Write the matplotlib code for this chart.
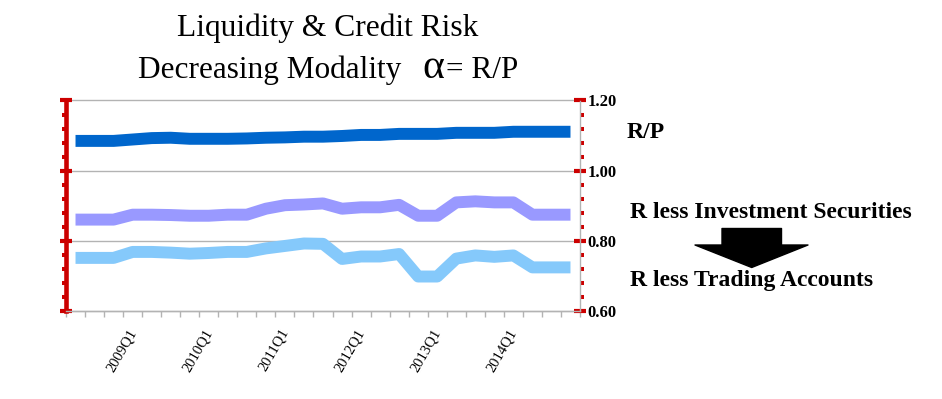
import matplotlib
matplotlib.use('Agg')
import matplotlib.pyplot as plt
import matplotlib.transforms as mtransforms
import numpy as np
from matplotlib.ticker import MultipleLocator, FixedLocator, FixedFormatter
from matplotlib.patches import Polygon

plt.rcParams['font.family'] = ['Liberation Serif', 'DejaVu Serif']

quarters = ['2008Q2', '2008Q3', '2008Q4',
            '2009Q1', '2009Q2', '2009Q3', '2009Q4',
            '2010Q1', '2010Q2', '2010Q3', '2010Q4',
            '2011Q1', '2011Q2', '2011Q3', '2011Q4',
            '2012Q1', '2012Q2', '2012Q3', '2012Q4',
            '2013Q1', '2013Q2', '2013Q3', '2013Q4',
            '2014Q1', '2014Q2', '2014Q3', '2014Q4']

r_over_p = [1.085, 1.085, 1.085, 1.089, 1.093, 1.094, 1.091, 1.091, 1.091,
            1.092, 1.094, 1.095, 1.097, 1.097, 1.099, 1.102, 1.102, 1.105,
            1.105, 1.105, 1.108, 1.108, 1.108, 1.111, 1.111, 1.111, 1.111]

r_less_inv = [0.861, 0.861, 0.861, 0.875, 0.875, 0.874, 0.872, 0.872, 0.875,
              0.875, 0.892, 0.902, 0.904, 0.907, 0.892, 0.896, 0.896, 0.903,
              0.872, 0.872, 0.910, 0.913, 0.910, 0.910, 0.875, 0.875, 0.875]

r_less_trading = [0.752, 0.752, 0.752, 0.769, 0.769, 0.767, 0.764, 0.766, 0.769,
                  0.769, 0.779, 0.786, 0.793, 0.792, 0.749, 0.756, 0.756, 0.763,
                  0.699, 0.699, 0.750, 0.759, 0.755, 0.759, 0.725, 0.725, 0.725]

series_names = ['R/P', 'R less Investment Securities', 'R less Trading Accounts']
colors = ['#0066CC', '#9999FF', '#85C9FB']

W, H = 942, 399
fig = plt.figure(figsize=(W / 100, H / 100), dpi=100)

def fx(px):
    return px / W

def fy(py):
    return (H - py) / H

left_px, right_px, top_px, bot_px = 66, 580, 100.5, 311.3
ax = fig.add_axes([fx(left_px), fy(bot_px), fx(right_px - left_px), (bot_px - top_px) / H])

x = np.arange(len(quarters))
for vals, c in zip([r_over_p, r_less_inv, r_less_trading], colors):
    ax.plot(x, vals, color=c, lw=8.6, solid_capstyle='butt', solid_joinstyle='round', zorder=3)

ax.set_xlim(-0.5, len(quarters) - 0.5)
ax.set_ylim(0.6, 1.2)

# y axis
ax.yaxis.set_major_locator(MultipleLocator(0.2))
ax.yaxis.set_minor_locator(MultipleLocator(0.04))
ax.yaxis.set_major_formatter(matplotlib.ticker.FormatStrFormatter('%.2f'))
ax.tick_params(axis='y', which='major', left=True, right=True, labelleft=False, labelright=True,
               direction='inout', length=8.4, width=3.0, color='#CC0000', pad=1, labelsize=12)
ax.tick_params(axis='y', which='minor', left=True, right=True,
               direction='out', length=3.0, width=2.9, color='#CC0000')

ax.yaxis.grid(True, which='major', color='#B3B3B3', lw=1.0)
ax.set_axisbelow(True)

# x axis
label_pos = [i for i, q in enumerate(quarters) if q.endswith('Q1')]
ax.xaxis.set_major_locator(FixedLocator(label_pos))
ax.xaxis.set_major_formatter(FixedFormatter([quarters[i] for i in label_pos]))
ax.xaxis.set_minor_locator(FixedLocator(np.arange(-0.5, len(quarters), 1.0)))
ax.tick_params(axis='x', which='major', length=0, pad=11, labelsize=10.5)
ax.tick_params(axis='x', which='minor', direction='out', length=4.3, width=1.0, color='#B3B3B3')

fig.canvas.draw()
shift = mtransforms.ScaledTranslation(-5 / 100, 0, fig.dpi_scale_trans)
for t in ax.yaxis.get_major_ticks():
    t.label2.set_fontweight('bold')
    t.gridline.set_clip_on(False)
for t in ax.xaxis.get_major_ticks():
    lab = t.label1
    lab.set_rotation(60)
    lab.set_ha('right')
    lab.set_va('top')
    lab.set_rotation_mode('anchor')
    lab.set_transform(lab.get_transform() + shift)

ax.spines['top'].set_visible(False)
ax.spines['bottom'].set_color('#B3B3B3')
ax.spines['bottom'].set_linewidth(1.0)
ax.spines['right'].set_color('#B3B3B3')
ax.spines['right'].set_linewidth(1.0)
ax.spines['left'].set_color('#CC0000')
ax.spines['left'].set_linewidth(3.3)

# titles
fig.text(fx(327.5), fy(36), 'Liquidity & Credit Risk', ha='center', va='baseline', fontsize=22.7)
fig.text(fx(138), fy(78), 'Decreasing Modality', ha='left', va='baseline', fontsize=22.5)
fig.text(fx(422), fy(78), '\u03b1', ha='left', va='baseline', fontsize=30)
fig.text(fx(446), fy(78), '= R/P', ha='left', va='baseline', fontsize=22.5)

# right-hand series labels
fig.text(fx(627), fy(138.3), series_names[0], ha='left', va='baseline', fontsize=17, fontweight='bold')
fig.text(fx(630.5), fy(218), series_names[1], ha='left', va='baseline', fontsize=17, fontweight='bold')
fig.text(fx(630.5), fy(286), series_names[2], ha='left', va='baseline', fontsize=17, fontweight='bold')

# downward arrow
arrow_px = [(722, 228.5), (781.5, 228.5), (781.5, 245), (808, 245), (751.7, 267.5),
            (695, 245), (722, 245)]
fig.patches.append(Polygon([(fx(a), fy(b)) for a, b in arrow_px], closed=True,
                           transform=fig.transFigure, facecolor='black', edgecolor='black',
                           lw=1, joinstyle='round'))

fig.savefig('out.png', dpi=100)
